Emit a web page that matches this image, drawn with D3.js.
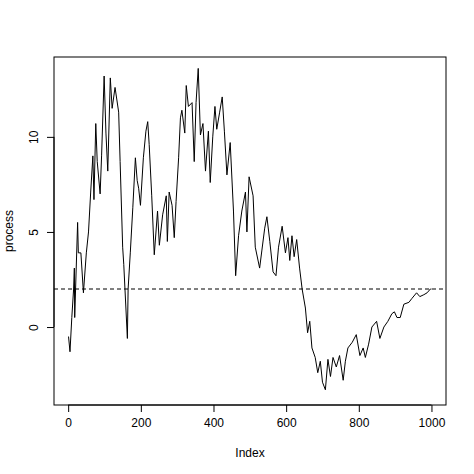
<!DOCTYPE html>
<html><head><meta charset="utf-8">
<script src="https://cdn.jsdelivr.net/npm/d3@7"></script>
<style>body{margin:0;background:#fff}text{font-family:"Liberation Sans",Arial,sans-serif;font-size:12px}</style>
</head><body><svg width="474" height="474"></svg>
<script>
// index / value pairs
const idx = [1,5,10,15,17,18,26,28,35,42,50,56,62,68,71,76,80,88,92,99,104,109,116,121,129,139,143,150,153,163,165,171,178,185,190,194,199,207,214,219,223,230,237,246,251,260,270,273,278,286,292,297,304,309,313,321,325,331,341,347,352,358,364,371,378,386,391,398,404,409,417,424,430,437,446,455,461,469,478,488,492,498,509,515,527,533,541,547,555,564,572,579,589,598,605,610,616,622,629,637,644,653,659,665,671,680,687,694,700,708,715,722,729,738,747,757,763,770,782,793,803,812,818,827,836,849,858,869,880,891,898,905,914,924,938,946,959,968,979,988,997,1000];
const vals = [-0.5,-1.3,0.5,2.0,3.1,0.5,5.5,3.9,3.9,1.8,3.9,5.0,7.1,9.0,6.7,10.7,8.7,7.0,9.0,13.2,10.2,8.2,13.1,11.5,12.6,11.3,8.7,4.2,3.3,-0.6,2.0,3.9,6.3,8.9,7.7,7.3,6.4,8.9,10.3,10.8,9.6,6.9,3.8,6.1,4.3,5.9,6.9,4.5,7.1,6.4,4.7,6.6,8.9,11.0,11.4,10.2,12.7,11.6,11.8,8.7,11.8,13.6,10.1,10.7,8.2,10.3,7.6,10.0,11.6,10.4,11.3,12.1,10.3,8.0,9.7,6.1,2.7,4.8,6.1,7.1,5.0,7.9,6.9,4.2,3.1,4.0,5.2,5.8,4.5,2.9,2.7,4.2,5.3,3.9,4.7,3.5,4.8,3.7,4.6,3.1,2.0,1.0,-0.3,0.3,-1.1,-1.6,-2.4,-1.8,-2.9,-3.3,-1.7,-2.6,-1.6,-2.1,-1.5,-2.8,-1.8,-1.1,-0.8,-0.4,-1.5,-1.1,-1.6,-0.9,0.0,0.3,-0.6,0.0,0.3,0.7,0.8,0.5,0.5,1.2,1.3,1.5,1.8,1.6,1.7,1.8,2.0,2.0];
const xTicks = [0,200,400,600,800,1000];
const yTicks = [0,5,10];
const refLevel = 2;

const svg = d3.select("svg");
const x = d3.scaleLinear().domain([-39, 1040]).range([54, 446]);
const y = d3.scaleLinear().domain([-4.1, 14.2]).range([405, 57]);

svg.append("rect").attr("x", 54).attr("y", 57).attr("width", 392).attr("height", 348)
  .attr("fill", "none").attr("stroke", "#000");

const xa = svg.append("g").attr("transform", "translate(0,405)")
  .call(d3.axisBottom(x).tickValues(xTicks).tickFormat(d3.format("d")).tickSize(7).tickPadding(6));
xa.select(".domain").attr("d", `M${x(0)},0H${x(1000)}`);
const ya = svg.append("g").attr("transform", "translate(54,0)")
  .call(d3.axisLeft(y).tickValues(yTicks).tickSize(7).tickPadding(6));
ya.select(".domain").attr("d", `M0,${y(0)}V${y(10)}`);
ya.selectAll(".tick text").attr("text-anchor", "middle").attr("dy", 0)
  .attr("transform", "rotate(-90) translate(0,-16)").attr("x", 0);
svg.selectAll(".tick text").style("font-size", "12px").style("font-family", "Liberation Sans, Arial");

svg.append("line").attr("x1", 54).attr("x2", 446).attr("y1", y(refLevel)).attr("y2", y(refLevel))
  .attr("stroke", "#000").attr("stroke-dasharray", "4,3");

svg.append("path").datum(idx.map((d, i) => [d, vals[i]]))
  .attr("fill", "none").attr("stroke", "#000").attr("stroke-width", 1)
  .attr("d", d3.line().x(d => x(d[0])).y(d => y(d[1])));

svg.append("text").attr("x", 250).attr("y", 457).attr("text-anchor", "middle").text("Index");
svg.append("text").attr("transform", `translate(13,${231}) rotate(-90)`).attr("text-anchor", "middle").text("process");
</script></body></html>
